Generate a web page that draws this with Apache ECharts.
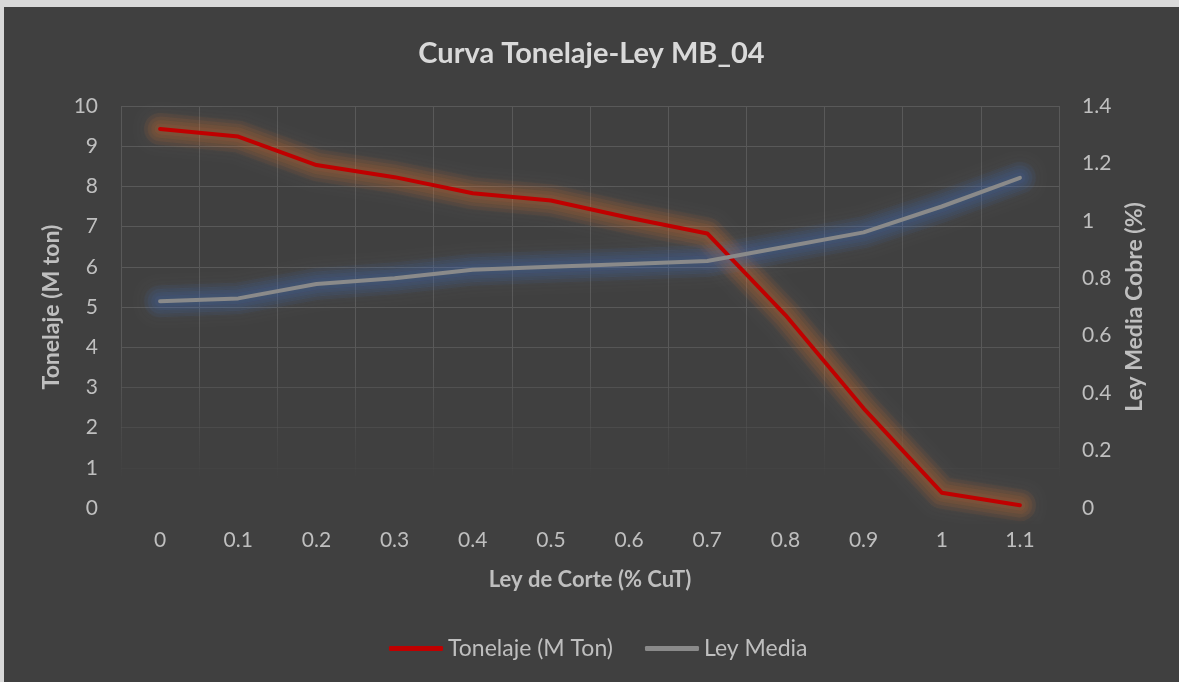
<!DOCTYPE html>
<html>
<head>
<meta charset="utf-8">
<script src="https://cdn.jsdelivr.net/npm/echarts@6/dist/echarts.min.js"></script>
<style>
  html, body { margin: 0; padding: 0; background: #d9d9d9; width: 1179px; height: 682px; overflow: hidden; }
  #chart { position: absolute; left: 4px; top: 7px; width: 1175px; height: 675px; }
</style>
</head>
<body>
<div id="chart"></div>
<script>
// Cut-off grade (% CuT)
const leyCorte = ['0', '0.1', '0.2', '0.3', '0.4', '0.5', '0.6', '0.7', '0.8', '0.9', '1', '1.1'];
// Tonnage above cut-off (million tonnes)
const tonelaje = [9.43, 9.24, 8.53, 8.23, 7.83, 7.65, 7.22, 6.83, 4.8, 2.48, 0.38, 0.07];
// Mean copper grade above cut-off (%)
const leyMedia = [0.72, 0.73, 0.78, 0.80, 0.83, 0.84, 0.85, 0.86, 0.91, 0.96, 1.05, 1.15];

const textColor = '#bfbfbf';
const gridColor = '#595959';
const font = 'Lato, "Open Sans", sans-serif';

// horizontal gridlines fade out toward the bottom (listed from 0 upwards)
const hLineColors = [
  'rgba(89,89,89,0)', 'rgba(89,89,89,0.15)', 'rgba(89,89,89,0.45)', 'rgba(89,89,89,0.7)',
  'rgba(89,89,89,0.9)', gridColor, gridColor, gridColor, gridColor, gridColor, gridColor
];

// soft halo under a line: several wide, faint, blurred strokes stacked
const haloWidths = [32, 25, 18, 11];
function glow(data, axis, rgb, alpha) {
  return haloWidths.map(function (w) {
    return {
      type: 'line',
      yAxisIndex: axis,
      data: data,
      symbol: 'none',
      silent: true,
      z: 1,
      lineStyle: {
        color: 'rgba(' + rgb + ',' + alpha + ')', width: w, cap: 'round', join: 'round',
        shadowColor: 'rgba(' + rgb + ',0.6)', shadowBlur: 10
      }
    };
  });
}

const chart = echarts.init(document.getElementById('chart'), null, { renderer: 'canvas' });

chart.setOption({
  backgroundColor: '#404040',
  animation: false,
  textStyle: { fontFamily: font },
  title: {
    text: 'Curva Tonelaje-Ley MB_04',
    left: 'center',
    top: 27,
    textStyle: { color: '#d9d9d9', fontSize: 29, fontWeight: 'bold', fontFamily: font }
  },
  legend: {
    bottom: 17,
    left: 380,
    itemWidth: 54,
    itemHeight: 5,
    itemGap: 32,
    icon: 'roundRect',
    textStyle: { color: textColor, fontSize: 23, fontFamily: font },
    data: ['Tonelaje (M Ton)', 'Ley Media']
  },
  grid: { left: 117, right: 120, top: 99, bottom: 174, containLabel: false },
  xAxis: {
    type: 'category',
    data: leyCorte,
    boundaryGap: true,
    name: 'Ley de Corte (% CuT)',
    nameLocation: 'middle',
    nameGap: 61,
    nameTextStyle: { color: textColor, fontSize: 22, fontWeight: 'bold', fontFamily: font },
    axisLine: { show: false },
    axisTick: { show: false },
    axisLabel: { color: textColor, fontSize: 21, margin: 22, fontFamily: font },
    splitLine: {
      show: true,
      interval: 0,
      lineStyle: {
        width: 1,
        color: new echarts.graphic.LinearGradient(0, 0, 0, 1, [
          { offset: 0, color: gridColor },
          { offset: 0.62, color: gridColor },
          { offset: 0.92, color: 'rgba(89,89,89,0)' },
          { offset: 1, color: 'rgba(89,89,89,0)' }
        ])
      }
    }
  },
  yAxis: [
    {
      type: 'value',
      min: 0, max: 10, interval: 1,
      name: 'Tonelaje (M ton)',
      nameLocation: 'middle',
      nameRotate: 90,
      nameGap: 58,
      nameTextStyle: { color: textColor, fontSize: 23, fontWeight: 'bold', fontFamily: font },
      axisLine: { show: false },
      axisTick: { show: false },
      axisLabel: { color: textColor, fontSize: 21, margin: 23, fontFamily: font },
      splitLine: { show: true, lineStyle: { width: 1, color: hLineColors } }
    },
    {
      type: 'value',
      min: 0, max: 1.4, interval: 0.2,
      position: 'right',
      name: 'Ley Media Cobre (%)',
      nameLocation: 'middle',
      nameRotate: 90,
      nameGap: 64,
      nameTextStyle: { color: textColor, fontSize: 23, fontWeight: 'bold', fontFamily: font },
      axisLine: { show: false },
      axisTick: { show: false },
      axisLabel: { color: textColor, fontSize: 21, margin: 23, fontFamily: font },
      splitLine: { show: false }
    }
  ],
  series: [].concat(
    glow(tonelaje, 0, '237,125,49', 0.065),
    glow(leyMedia, 1, '68,114,196', 0.07),
    [
      {
        name: 'Tonelaje (M Ton)',
        type: 'line',
        yAxisIndex: 0,
        data: tonelaje,
        symbol: 'none',
        z: 3,
        color: '#c00000',
        lineStyle: { color: '#c00000', width: 4, cap: 'round', join: 'round' }
      },
      {
        name: 'Ley Media',
        type: 'line',
        yAxisIndex: 1,
        data: leyMedia,
        symbol: 'none',
        z: 3,
        color: '#8a8a8a',
        lineStyle: { color: '#8a8a8a', width: 4, cap: 'round', join: 'round' }
      }
    ]
  )
});
</script>
</body>
</html>
